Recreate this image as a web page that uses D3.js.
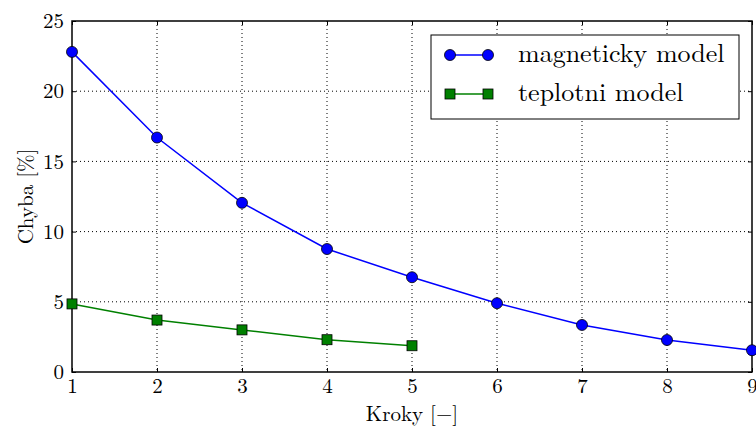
<!DOCTYPE html>
<html>
<head>
<meta charset="utf-8">
<script src="https://cdn.jsdelivr.net/npm/d3@7"></script>
<style>
  body { margin: 0; background: #fff; }
</style>
</head>
<body>
<div id="canvas"></div>
<script>
"use strict"

let svgWidth = 756
let svgHeight = 428
let plotLeft = 72, plotRight = 752, plotTop = 21, plotBottom = 372
let fontName = "Latin Modern Roman, Liberation Serif, serif"

/* data */
let steps = [1, 2, 3, 4, 5, 6, 7, 8, 9]
let magneticky = [22.8, 16.7, 12.05, 8.76, 6.75, 4.9, 3.35, 2.28, 1.55]
let teplotniSteps = [1, 2, 3, 4, 5]
let teplotni = [4.85, 3.7, 3.0, 2.3, 1.87]
let xTicks = [1, 2, 3, 4, 5, 6, 7, 8, 9]
let yTicks = [0, 5, 10, 15, 20, 25]
let seriesNames = ["magneticky model", "teplotni model"]

let svg = d3.select("#canvas")
    .append("svg")
    .attr("width", svgWidth)
    .attr("height", svgHeight)
    .attr("font-family", fontName)

let xScale = d3.scaleLinear().domain([1, 9]).range([plotLeft, plotRight])
let yScale = d3.scaleLinear().domain([0, 25]).range([plotBottom, plotTop])

/* grid */
svg.selectAll(".vgrid")
   .data(xTicks.slice(1, -1))
   .join("line")
   .attr("x1", d => xScale(d)).attr("x2", d => xScale(d))
   .attr("y1", plotTop).attr("y2", plotBottom)
   .attr("stroke", "black").attr("stroke-width", 1)
   .attr("stroke-dasharray", "1,3")

svg.selectAll(".hgrid")
   .data(yTicks.slice(1, -1))
   .join("line")
   .attr("x1", plotLeft).attr("x2", plotRight)
   .attr("y1", d => yScale(d)).attr("y2", d => yScale(d))
   .attr("stroke", "black").attr("stroke-width", 1)
   .attr("stroke-dasharray", "1,3")

/* axes: ticks pointing inward */
let xAxis = svg.append("g")
   .attr("transform", "translate(0," + plotBottom + ")")
   .call(d3.axisBottom(xScale).tickValues(xTicks).tickSizeInner(-4).tickSizeOuter(0).tickPadding(6))
xAxis.attr("font-family", fontName).attr("font-size", 21)
xAxis.select(".domain").remove()

let yAxis = svg.append("g")
   .attr("transform", "translate(" + plotLeft + ",0)")
   .call(d3.axisLeft(yScale).tickValues(yTicks).tickSizeInner(-4).tickSizeOuter(0).tickPadding(8))
yAxis.attr("font-family", fontName).attr("font-size", 21)
yAxis.select(".domain").remove()

/* top and right ticks */
let topAxis = svg.append("g")
   .attr("transform", "translate(0," + plotTop + ")")
   .call(d3.axisTop(xScale).tickValues(xTicks).tickSizeInner(-4).tickSizeOuter(0).tickFormat(""))
topAxis.select(".domain").remove()
let rightAxis = svg.append("g")
   .attr("transform", "translate(" + plotRight + ",0)")
   .call(d3.axisRight(yScale).tickValues(yTicks).tickSizeInner(-4).tickSizeOuter(0).tickFormat(""))
rightAxis.select(".domain").remove()

/* frame */
svg.append("rect")
   .attr("x", plotLeft).attr("y", plotTop)
   .attr("width", plotRight - plotLeft).attr("height", plotBottom - plotTop)
   .attr("fill", "none").attr("stroke", "black").attr("stroke-width", 1.5)

/* lines */
let line = d3.line().x(d => xScale(d[0])).y(d => yScale(d[1]))
let magData = d3.zip(steps, magneticky)
let tepData = d3.zip(teplotniSteps, teplotni)

svg.append("path").datum(magData).attr("d", line)
   .attr("fill", "none").attr("stroke", "#0000ff").attr("stroke-width", 1.5)
svg.append("path").datum(tepData).attr("d", line)
   .attr("fill", "none").attr("stroke", "#008000").attr("stroke-width", 1.5)

svg.selectAll(".mag")
   .data(magData)
   .join("circle")
   .attr("cx", d => xScale(d[0])).attr("cy", d => yScale(d[1]))
   .attr("r", 5.5)
   .attr("fill", "#0000ff").attr("stroke", "black").attr("stroke-width", 0.8)

svg.selectAll(".tep")
   .data(tepData)
   .join("rect")
   .attr("x", d => xScale(d[0]) - 5).attr("y", d => yScale(d[1]) - 5)
   .attr("width", 10).attr("height", 10)
   .attr("fill", "#008000").attr("stroke", "black").attr("stroke-width", 0.8)

/* axis labels */
svg.append("text")
   .attr("x", (plotLeft + plotRight) / 2).attr("y", 421)
   .attr("text-anchor", "middle").attr("font-size", 21)
   .text("Kroky [\u2212]")

svg.append("text")
   .attr("transform", "translate(33," + ((plotTop + plotBottom) / 2) + ") rotate(-90)")
   .attr("text-anchor", "middle").attr("font-size", 21)
   .text("Chyba [%]")

/* legend */
let lg = svg.append("g")
lg.append("rect")
   .attr("x", 431).attr("y", 35).attr("width", 308).attr("height", 84)
   .attr("fill", "white").attr("stroke", "black").attr("stroke-width", 1)

let legendItems = [
   {name: seriesNames[0], color: "#0000ff", shape: "circle"},
   {name: seriesNames[1], color: "#008000", shape: "square"}
]
legendItems.forEach(function (it, i) {
   let y = 55 + i * 39
   lg.append("line").attr("x1", 450).attr("x2", 488).attr("y1", y).attr("y2", y)
     .attr("stroke", it.color).attr("stroke-width", 1.5)
   ;[450, 488].forEach(function (x) {
      if (it.shape === "circle") {
         lg.append("circle").attr("cx", x).attr("cy", y).attr("r", 5.5)
           .attr("fill", it.color).attr("stroke", "black").attr("stroke-width", 0.8)
      } else {
         lg.append("rect").attr("x", x - 5).attr("y", y - 5).attr("width", 10).attr("height", 10)
           .attr("fill", it.color).attr("stroke", "black").attr("stroke-width", 0.8)
      }
   })
   lg.append("text").attr("x", 518).attr("y", y + 7)
     .attr("font-size", 26).text(it.name)
})
</script>
</body>
</html>
